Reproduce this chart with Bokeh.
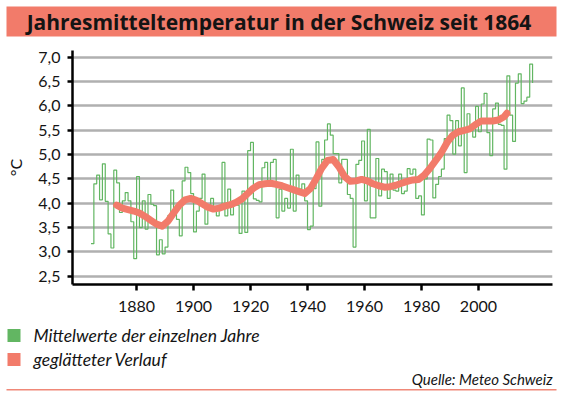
from bokeh.plotting import figure
from bokeh.models import Range1d, FixedTicker
from bokeh.core.properties import value
from bokeh.embed import file_html
from bokeh.resources import INLINE

# ---------------- data ----------------
title_text = "Jahresmitteltemperatur in der Schweiz seit 1864"
y_axis_title = "°C"
legend_labels = ["Mittelwerte der einzelnen Jahre", "geglätteter Verlauf"]
source_text = "Quelle: Meteo Schweiz"

years = list(range(1864, 2020))
annual = [
    3.17, 4.40, 4.58, 4.07, 4.81, 4.04, 3.37, 3.08, 4.68, 4.42,   # 1864-1873
    3.81, 4.05, 4.22, 4.05, 3.62, 2.86, 4.55, 3.50, 4.05, 3.47,   # 1874-1883
    4.18, 3.98, 3.95, 2.94, 3.25, 2.96, 3.10, 3.75, 4.27, 3.88,   # 1884-1893
    3.67, 3.33, 4.46, 4.74, 4.63, 4.20, 3.41, 3.84, 4.10, 4.60,   # 1894-1903
    3.57, 3.90, 4.10, 3.84, 3.74, 3.91, 4.84, 3.74, 4.29, 3.76,   # 1904-1913
    3.96, 3.96, 3.38, 4.25, 3.40, 5.08, 5.25, 4.09, 4.06, 4.03,   # 1914-1923
    4.73, 4.84, 4.40, 4.84, 4.90, 3.70, 4.29, 3.84, 4.10, 3.90,   # 1924-1933
    5.11, 3.84, 4.58, 4.29, 4.40, 4.05, 3.46, 3.53, 4.30, 5.26,   # 1934-1943
    3.94, 4.90, 5.30, 5.63, 5.40, 5.02, 5.02, 4.42, 4.90, 4.90,   # 1944-1953
    4.18, 4.10, 3.10, 4.80, 4.88, 5.28, 4.05, 5.52, 3.70, 3.70,   # 1954-1963
    4.92, 4.15, 4.70, 4.65, 4.10, 4.60, 4.27, 4.25, 4.60, 4.20,   # 1964-1973
    4.25, 4.71, 4.60, 4.70, 4.10, 4.15, 3.76, 4.50, 5.32, 5.30,   # 1974-1983
    4.11, 4.39, 4.55, 4.70, 5.33, 5.81, 5.70, 5.01, 5.70, 5.18,   # 1984-1993
    6.37, 4.63, 5.84, 5.55, 5.36, 5.99, 5.47, 6.04, 6.26, 5.45,   # 1994-2003
    4.98, 5.94, 6.06, 5.62, 5.60, 4.70, 6.62, 5.81, 5.27, 6.47,   # 2004-2013
    6.66, 6.05, 6.10, 6.18, 6.86, 6.47,                           # 2014-2019
]

smooth_years = [1873, 1875, 1877, 1879, 1881, 1883, 1885, 1887, 1889, 1891,
                1893, 1895, 1897, 1899, 1901, 1903, 1905, 1907, 1909, 1911,
                1913, 1915, 1917, 1919, 1921, 1923, 1925, 1927, 1929, 1931,
                1933, 1935, 1937, 1939, 1941, 1943, 1945, 1947, 1949, 1951,
                1953, 1955, 1957, 1959, 1961, 1963, 1965, 1967, 1969, 1971,
                1973, 1975, 1977, 1979, 1981, 1983, 1985, 1987, 1989, 1991,
                1993, 1995, 1997, 1999, 2001, 2003, 2005, 2007, 2009, 2010]
smooth_values = [3.96, 3.90, 3.87, 3.84, 3.80, 3.73, 3.65, 3.57, 3.53, 3.63,
                 3.80, 3.96, 4.07, 4.10, 4.06, 3.99, 3.92, 3.88, 3.90, 3.94,
                 3.97, 4.02, 4.09, 4.20, 4.31, 4.38, 4.40, 4.41, 4.39, 4.36,
                 4.32, 4.28, 4.24, 4.20, 4.30, 4.50, 4.72, 4.88, 4.90, 4.75,
                 4.55, 4.45, 4.46, 4.49, 4.46, 4.40, 4.36, 4.33, 4.34, 4.37,
                 4.41, 4.45, 4.48, 4.49, 4.58, 4.72, 4.88, 5.04, 5.25, 5.40,
                 5.47, 5.50, 5.53, 5.62, 5.69, 5.69, 5.69, 5.71, 5.78, 5.85]

x_ticks = [1880, 1900, 1920, 1940, 1960, 1980, 2000]
y_ticks = [2.5, 3.0, 3.5, 4.0, 4.5, 5.0, 5.5, 6.0, 6.5, 7.0]
y_tick_labels = ["2,5", "3,0", "3,5", "4,0", "4,5", "5,0", "5,5", "6,0", "6,5", "7,0"]

# ---------------- style ----------------
W = 561
FONT = "Lato"
TITLE_FONT = "Open Sans"
GREEN = "#62b662"
SALMON = "#f27b6a"
TEXT = "#141414"

# ---------------- title bar ----------------
TH = 40
t = figure(width=W, height=TH, x_range=Range1d(0, W), y_range=Range1d(TH, 0),
           toolbar_location=None, output_backend="svg", x_axis_type=None, y_axis_type=None,
           min_border=0, outline_line_color=None)
t.quad(left=[6], right=[556], top=[6], bottom=[36], fill_color=SALMON, line_color=None)
t.text(x=[278.5], y=[21.5], text=[title_text], text_font=value(TITLE_FONT), text_font_style="bold",
       text_font_size="21px", text_align="center", text_baseline="middle", text_color=TEXT)

# ---------------- main chart ----------------
p = figure(width=W, height=278, x_range=Range1d(1857.5, 2026), y_range=Range1d(2.33, 7.14),
           toolbar_location=None, output_backend="svg",
           min_border_left=72, min_border_right=9, min_border_top=10, min_border_bottom=34,
           outline_line_color=None, background_fill_color="white", border_fill_color="white")

p.xgrid.visible = False
p.ygrid.ticker = FixedTicker(ticks=y_ticks)
p.ygrid.grid_line_color = "#b0b0b0"
p.ygrid.grid_line_width = 2.5

for ax in (p.xaxis[0], p.yaxis[0]):
    ax.axis_line_color = "black"
    ax.axis_line_width = 2.5
    ax.major_tick_line_color = "black"
    ax.major_tick_line_width = 2.5
    ax.minor_tick_line_color = None
    ax.major_tick_in = 0
    ax.major_label_text_font = FONT
    ax.major_label_text_font_size = "16px"
    ax.major_label_text_color = TEXT

p.xaxis.ticker = FixedTicker(ticks=x_ticks)
p.xaxis.major_tick_out = 6
p.xaxis.major_label_standoff = 10

p.yaxis.ticker = FixedTicker(ticks=y_ticks)
p.yaxis.major_label_overrides = dict(zip(y_ticks, y_tick_labels))
p.yaxis.major_tick_out = 5
p.yaxis.major_label_standoff = 7
p.yaxis.axis_label = y_axis_title
p.yaxis.axis_label_text_font = FONT
p.yaxis.axis_label_text_font_style = "normal"
p.yaxis.axis_label_text_font_size = "16px"
p.yaxis.axis_label_text_color = TEXT
p.yaxis.axis_label_standoff = 10

p.step(years, annual, mode="after", line_color=GREEN, line_width=1.2)
p.line(smooth_years, smooth_values, line_color=SALMON, line_width=7,
       line_cap="round", line_join="round")

# ---------------- legend / source ----------------
LH = 79
lg = figure(width=W, height=LH, x_range=Range1d(0, W), y_range=Range1d(LH, 0),
            toolbar_location=None, output_backend="svg", x_axis_type=None, y_axis_type=None,
            min_border=0, outline_line_color=None)
lg.rect(x=[13.5, 13.5], y=[17, 41], width=13, height=13, fill_color=[GREEN, SALMON], line_color=None)
lg.text(x=[33, 33], y=[17, 41], text=legend_labels, text_font=value(FONT), text_font_style="italic",
        text_font_size="17.5px", text_align="left", text_baseline="middle", text_color=TEXT)
lg.text(x=[552], y=[60], text=[source_text], text_font=value(FONT), text_font_style="italic",
        text_font_size="15px", text_align="right", text_baseline="middle", text_color=TEXT)
lg.segment(x0=[6], x1=[556], y0=[71.3], y1=[71.3], line_color="#f08878", line_width=1.5)

open("out.html", "w").write(file_html([t, p, lg], INLINE))
